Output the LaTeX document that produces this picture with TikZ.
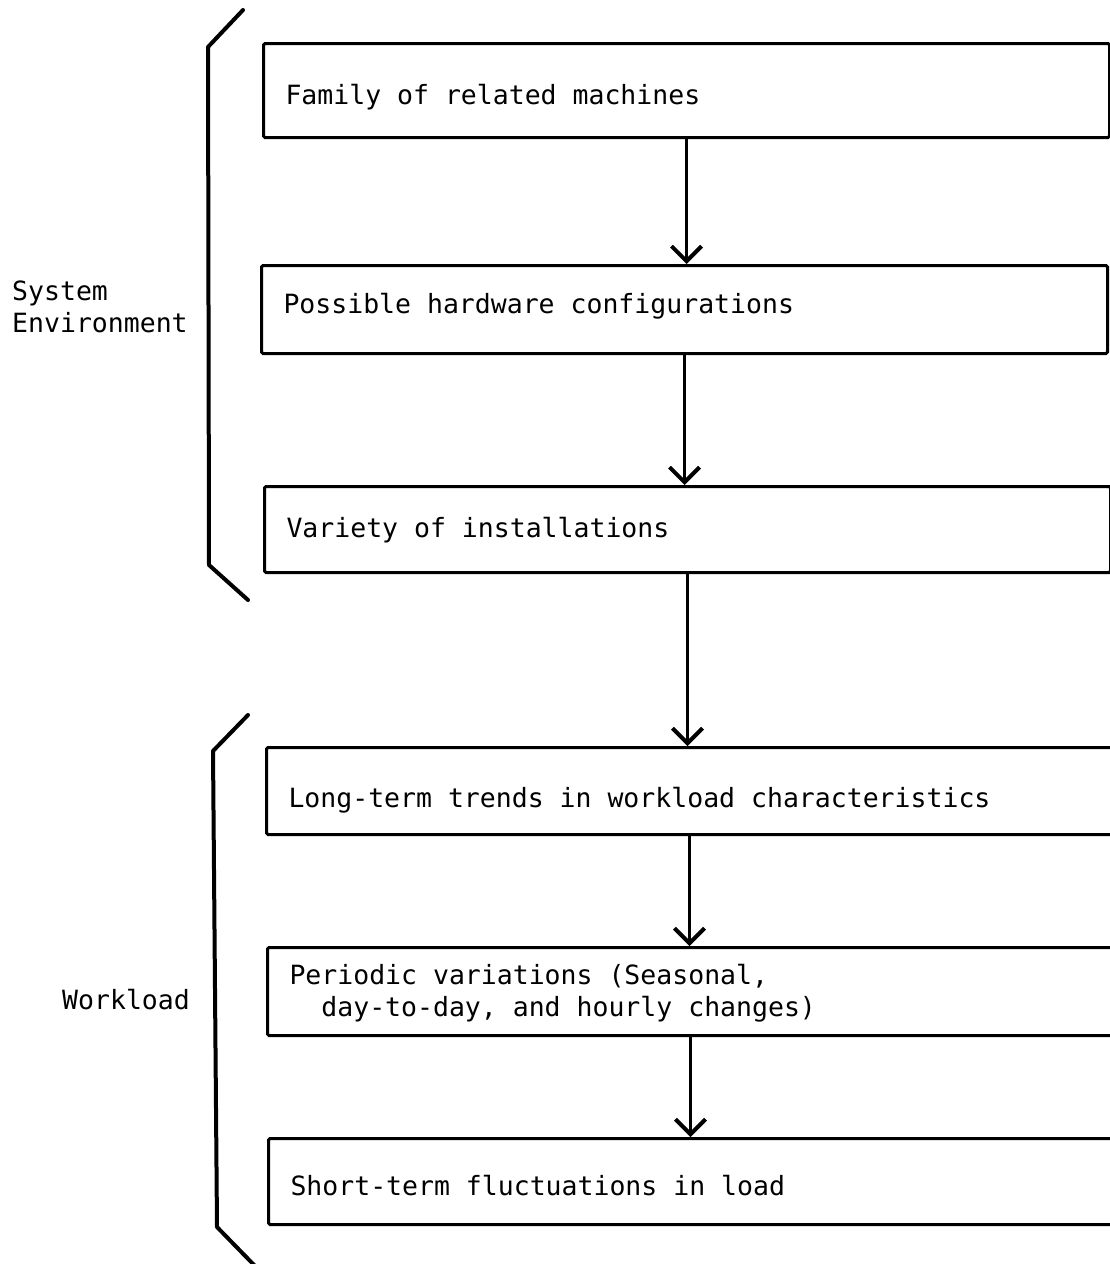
\documentclass[tikz,border=0pt]{standalone}
\usepackage{fontspec}
\setmonofont{DejaVu Sans Mono}
\usetikzlibrary{arrows.meta, positioning}

\begin{document}
\begin{tikzpicture}[x=1pt, y=-1pt,
  txt/.style={font=\ttfamily\fontsize{26.5}{31.8}\selectfont},
  box/.style={txt, draw, line width=3pt, rounded corners=1.5pt, anchor=north west,
    text width=802pt, inner xsep=22pt, inner ysep=0pt, align=left, minimum height=#1,
    text depth=6pt, execute at begin node={\spaceskip=15.95pt\relax}},
  box/.default=90pt,
  arr/.style={line width=3pt, -{Straight Barb[length=15pt, width=30pt, line width=4pt]}},
  brace/.style={line width=4pt, line join=round, line cap=round}]
\useasboundingbox (0,0) rectangle (1109,1264);

% System environment boxes
\node[box=94pt, text height=34pt] (fam) at (262,42) {Family of related machines};
\node[box=88pt, text height=14pt] (hw) at (260,264) {Possible hardware configurations};
\node[box=86pt, text height=22pt] (inst) at (263,485) {Variety of installations};

% Workload boxes
\node[box=87pt, text height=39pt] (trend) at (265,746) {Long-term trends in workload characteristics};
\node[box=88pt, text height=24pt, text depth=37.8pt] (period) at (266,946) {Periodic variations (Seasonal,\\\phantom{xx}day-to-day, and hourly changes)};
\node[box=86pt, text height=34pt] (short) at (267,1137) {Short-term fluctuations in load};

% Arrows
\draw[arr] (fam.south) -- (fam.south |- hw.north);
\draw[arr] (hw.south) -- (hw.south |- inst.north);
\draw[arr] (inst.south) -- (inst.south |- trend.north);
\draw[arr] (trend.south) -- (trend.south |- period.north);
\draw[arr] (period.south) -- (period.south |- short.north);

% Brackets
\draw[brace] (243,10) -- (208,47) -- (209,565) -- (248,600);
\draw[brace] (248,715) -- (213,751) -- (217,1227) -- (255,1266);

% Side labels
\node[txt, anchor=west, align=left, inner sep=0pt] (sysenv) at (12,307) {System\\Environment};
\node[txt, anchor=west, inner sep=0pt] (wl) at (62,1000) {Workload};
\end{tikzpicture}
\end{document}
